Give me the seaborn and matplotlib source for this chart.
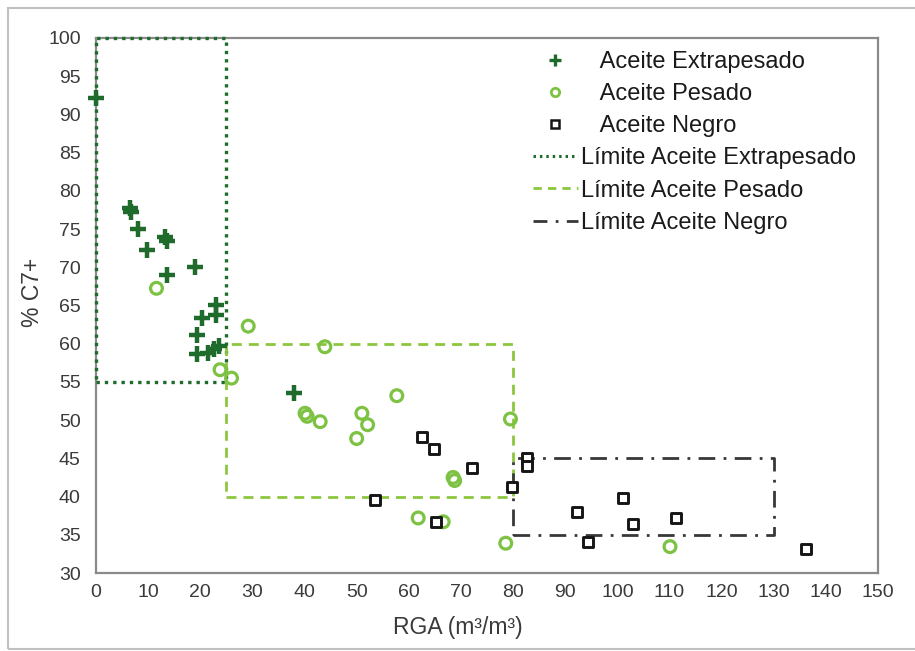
import matplotlib
matplotlib.use("Agg")
import matplotlib.pyplot as plt
from matplotlib.lines import Line2D
from matplotlib.patches import Rectangle
import pandas as pd
import seaborn as sns

# --- data -------------------------------------------------------------
extra_rga = [0, 6.5, 6.8, 8.0, 9.7, 13.2, 13.6, 13.7, 19.0, 20.3, 23.1, 23.1,
             19.3, 19.3, 21.5, 22.6, 23.6, 37.9]
extra_c7 = [92.1, 77.7, 77.2, 75.0, 72.3, 73.9, 73.4, 69.0, 70.1, 63.3, 65.1, 63.8,
            61.1, 58.7, 58.8, 59.3, 59.7, 53.6]

pes_rga = [11.6, 23.8, 26.0, 29.2, 43.9, 40.1, 40.5, 43.0, 51.0, 52.1, 50.0, 57.7,
           79.5, 68.5, 68.8, 61.8, 66.6, 78.6, 110.1]
pes_c7 = [67.25, 56.6, 55.5, 62.3, 59.6, 50.9, 50.5, 49.8, 50.9, 49.4, 47.6, 53.2,
          50.15, 42.5, 42.1, 37.2, 36.7, 33.9, 33.45]

neg_rga = [53.5, 62.6, 64.8, 72.2, 65.2, 79.7, 82.6, 82.6, 101.0, 92.3, 103.1,
           111.2, 94.4, 136.2]
neg_c7 = [39.6, 47.8, 46.2, 43.7, 36.7, 41.2, 45.1, 44.0, 39.8, 37.95, 36.4,
          37.2, 34.1, 33.1]

# limit boxes: (rga_min, rga_max), (c7_min, c7_max)
lim_extra_rga, lim_extra_c7 = (0, 25), (55, 100)
lim_pes_rga, lim_pes_c7 = (25, 80), (40, 60)
lim_neg_rga, lim_neg_c7 = (80, 130), (35, 45)

x_ticks = list(range(0, 151, 10))
y_ticks = list(range(30, 101, 5))

series_labels = ["Aceite Extrapesado", "Aceite Pesado", "Aceite Negro"]
limit_labels = ["Límite Aceite Extrapesado", "Límite Aceite Pesado",
                "Límite Aceite Negro"]

# --- style ------------------------------------------------------------
sns.set_style("white")
plt.rcParams["font.family"] = ["Liberation Sans", "DejaVu Sans"]

dark_green = "#1e6b2b"
light_green = "#7dc242"
dash_green = "#8cc63f"
black = "#151515"
dashdot_gray = "#383838"
text_gray = "#3a3a3a"

fig = plt.figure(figsize=(9.15, 6.51), dpi=100)
ax = fig.add_axes([96 / 915, 1 - 573 / 651, (878 - 96) / 915, (573 - 38) / 651])


def box_path(xr, yr):
    xs = [xr[0], xr[1], xr[1], xr[0], xr[0]]
    ys = [yr[0], yr[0], yr[1], yr[1], yr[0]]
    return xs, ys


# limit boxes
dotted = (0, (1.0, 1.5))
dashed = (0, (3.6, 2.5))
dashdot = (0, (6, 3, 1, 3))

xs, ys = box_path(lim_extra_rga, lim_extra_c7)
ax.plot(xs, ys, color=dark_green, lw=2.4, ls=dotted, zorder=3, clip_on=False)
xs, ys = box_path(lim_pes_rga, lim_pes_c7)
ax.plot(xs, ys, color=dash_green, lw=2.0, ls=dashed, zorder=3)
xs, ys = box_path(lim_neg_rga, lim_neg_c7)
ax.plot(xs, ys, color=dashdot_gray, lw=2.0, ls=dashdot, zorder=3)

# scatter series
df_pes = pd.DataFrame({"RGA": pes_rga, "C7": pes_c7})
df_neg = pd.DataFrame({"RGA": neg_rga, "C7": neg_c7})
df_ext = pd.DataFrame({"RGA": extra_rga, "C7": extra_c7})

sns.scatterplot(data=df_pes, x="RGA", y="C7", ax=ax, marker="o", s=72,
                color=light_green, facecolor="none", edgecolor=light_green,
                linewidth=2.3, zorder=4, clip_on=False)
sns.scatterplot(data=df_neg, x="RGA", y="C7", ax=ax, marker="s", s=62,
                color=black, facecolor="white", edgecolor=black,
                linewidth=2.1, zorder=5, clip_on=False)
sns.scatterplot(data=df_ext, x="RGA", y="C7", ax=ax, marker="+", s=135,
                color=dark_green, linewidth=3.2, zorder=6, clip_on=False)

# axes
ax.set_xlim(0, 150)
ax.set_ylim(30, 100)
ax.set_xticks(x_ticks)
ax.set_yticks(y_ticks)
ax.tick_params(axis="x", length=0, pad=8, labelsize=14, labelcolor=text_gray)
ax.tick_params(axis="y", length=0, pad=11, labelsize=14, labelcolor=text_gray)
for sp in ax.spines.values():
    sp.set_color("#8a8a8a")
    sp.set_linewidth(1.6)

ax.set_xlabel("RGA (m³/m³)", fontsize=16.5, color=text_gray)
ax.set_ylabel("% C7+", fontsize=16.5, color=text_gray)
ax.xaxis.set_label_coords(0.463, -0.08)
ax.yaxis.set_label_coords(-0.066, 0.525)

# legend
handles = [
    Line2D([], [], ls="none", marker="+", ms=9, mew=2.4, color=dark_green),
    Line2D([], [], ls="none", marker="o", ms=6, mew=2.0, mfc="none", mec=light_green),
    Line2D([], [], ls="none", marker="s", ms=5.5, mew=1.8, mfc="none", mec=black),
    Line2D([], [], color=dark_green, lw=2.2, ls=(0, (0.8, 1.3))),
    Line2D([], [], color=dash_green, lw=2.0, ls=(0, (3.0, 2.2))),
    Line2D([], [], color=dashdot_gray, lw=2.0, ls=(0, (5, 3, 1, 3))),
]
labels = ["   " + s for s in series_labels] + limit_labels
leg = ax.legend(handles, labels, loc="upper left",
                bbox_to_anchor=(533 / 915, 1 - 51 / 651),
                bbox_transform=fig.transFigure, frameon=False, fontsize=17,
                handlelength=1.9, handletextpad=0.12, labelspacing=0.43,
                borderpad=0.0, borderaxespad=0.0)
for t in leg.get_texts():
    t.set_color("#1a1a1a")

# light border around the figure
fig.patches.append(Rectangle((8 / 915, 2 / 651), 1.0, 1 - 10 / 651,
                             transform=fig.transFigure, fill=False,
                             edgecolor="#c0c0c0", linewidth=1.5, zorder=0))

fig.savefig("out.png", dpi=100)
